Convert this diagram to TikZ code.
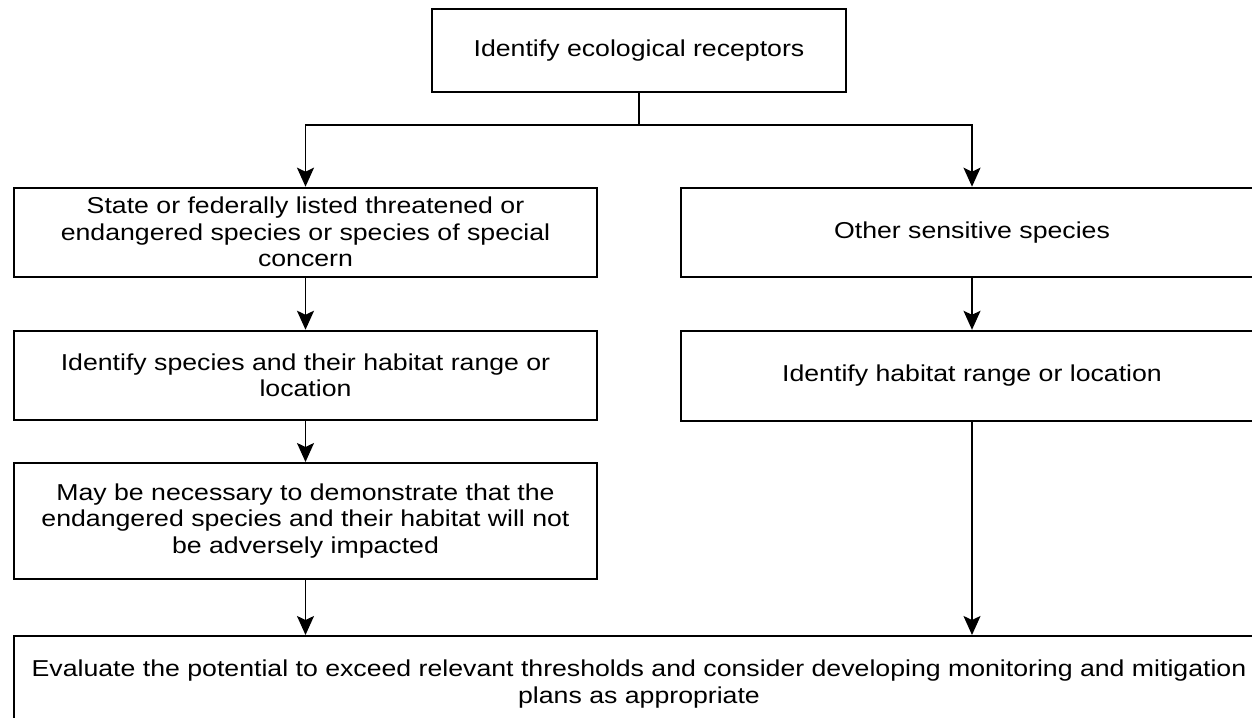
\documentclass[tikz,border=0pt]{standalone}
\usepackage{fontspec}
\setmainfont[FakeStretch=1.16]{Liberation Sans}
\usetikzlibrary{arrows.meta}
\begin{document}
\begin{tikzpicture}[x=1pt,y=-1pt,
  box/.style={draw, line width=2pt, align=center, inner sep=0pt,
    font=\fontsize{23}{26.5}\selectfont},
  arr/.style={line width=1.8pt, -{Stealth[length=19pt,width=17pt,inset=4pt]}},
  conn/.style={line width=1.8pt}]
\clip (0,0) rectangle (1252,717);
\fill[white] (0,0) rectangle (1252,717);
\node[box, minimum width=414pt, minimum height=83pt] (top) at (639,50.5) {Identify ecological receptors};
\node[box, minimum width=583pt, minimum height=89pt] (l1) at (305.5,232.2) {State or federally listed threatened or\\endangered species or species of special\\concern};
\node[box, minimum width=583pt, minimum height=89.3pt] (l2) at (305.5,375.4) {Identify species and their habitat range or\\location};
\node[box, minimum width=583pt, minimum height=116pt] (l3) at (305.5,521) {May be necessary to demonstrate that the\\endangered species and their habitat will not\\be adversely impacted};
\node[box, minimum width=582pt, minimum height=89pt] (r1) at (972,232.2) {Other sensitive species};
\node[box, minimum width=582pt, minimum height=90pt] (r2) at (972,375.8) {Identify habitat range or location};
\node[box, minimum width=1250pt, minimum height=96pt] (bot) at (639,684) {Evaluate the potential to exceed relevant thresholds and consider developing monitoring and mitigation\\plans as appropriate};
\coordinate (j) at (639,125);
\draw[conn] (top.south) -- (j);
\draw[arr] (j) -| (l1.north);
\draw[arr] (j) -| (r1.north);
\draw[arr] (l1) -- (l2);
\draw[arr] (l2) -- (l3);
\draw[arr] (l3.south) -- (l3.south |- bot.north);
\draw[arr] (r1) -- (r2);
\draw[arr] (r2.south) -- (r2.south |- bot.north);
\end{tikzpicture}
\end{document}
